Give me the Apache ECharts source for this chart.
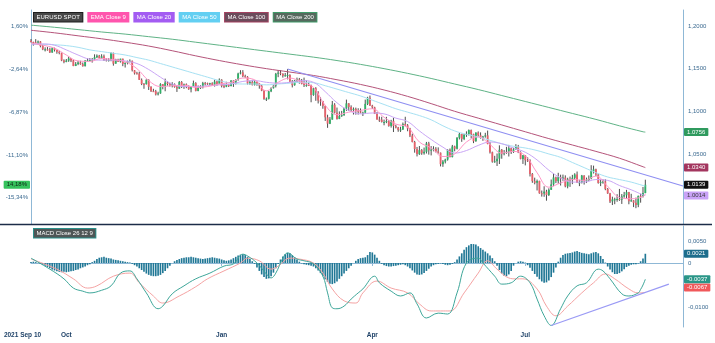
<!DOCTYPE html>
<html>
<head>
<meta charset="utf-8">
<script src="https://cdn.jsdelivr.net/npm/echarts@6/dist/echarts.min.js"></script>
<style>
  html, body { margin: 0; padding: 0; background: #ffffff; }
  #chart { width: 715px; height: 343px; }
</style>
</head>
<body>
<div id="chart"></div>
<script>
// EUR/USD daily candles with moving averages and MACD(26,12,9)

const startDate = '2021-09-10';
const axisSlots = 278; // trading days on the time axis, incl. empty room after the last bar

// Daily candles: [open, high, low, close], one per weekday from startDate
const candles = [
  [1.1827,1.1847,1.1806,1.1813],[1.1813,1.1816,1.1770,1.1808],[1.1808,1.1846,1.1800,1.1806],[1.1806,1.1830,1.1783,1.1819],[1.1819,1.1823,1.1750,1.1765],
  [1.1765,1.1781,1.1717,1.1725],[1.1725,1.1750,1.1702,1.1727],[1.1727,1.1753,1.1711,1.1725],[1.1725,1.1745,1.1684,1.1690],[1.1690,1.1751,1.1685,1.1740],
  [1.1740,1.1746,1.1701,1.1719],[1.1719,1.1723,1.1675,1.1696],[1.1696,1.1710,1.1668,1.1683],[1.1683,1.1688,1.1588,1.1596],[1.1596,1.1609,1.1563,1.1579],
  [1.1579,1.1613,1.1575,1.1595],[1.1595,1.1641,1.1580,1.1620],[1.1620,1.1624,1.1577,1.1597],[1.1597,1.1604,1.1529,1.1531],[1.1531,1.1577,1.1530,1.1554],
  [1.1554,1.1592,1.1541,1.1573],[1.1573,1.1592,1.1546,1.1552],[1.1552,1.1572,1.1524,1.1529],[1.1529,1.1600,1.1526,1.1594],[1.1594,1.1624,1.1584,1.1597],
  [1.1597,1.1624,1.1586,1.1601],[1.1601,1.1625,1.1571,1.1608],[1.1608,1.1668,1.1600,1.1634],[1.1634,1.1667,1.1624,1.1652],[1.1652,1.1661,1.1619,1.1623],
  [1.1623,1.1669,1.1618,1.1644],[1.1644,1.1665,1.1590,1.1608],[1.1608,1.1624,1.1584,1.1599],[1.1599,1.1623,1.1583,1.1601],[1.1601,1.1692,1.1587,1.1683],
  [1.1683,1.1688,1.1535,1.1558],[1.1558,1.1615,1.1558,1.1607],[1.1607,1.1616,1.1578,1.1581],[1.1581,1.1616,1.1571,1.1617],[1.1617,1.1617,1.1529,1.1555],
  [1.1555,1.1575,1.1513,1.1567],[1.1567,1.1594,1.1550,1.1587],[1.1587,1.1609,1.1573,1.1592],[1.1592,1.1595,1.1467,1.1481],[1.1481,1.1484,1.1431,1.1445],
  [1.1445,1.1463,1.1432,1.1444],[1.1444,1.1464,1.1368,1.1369],[1.1369,1.1385,1.1307,1.1320],[1.1320,1.1332,1.1264,1.1319],[1.1319,1.1374,1.1313,1.1370],
  [1.1370,1.1374,1.1250,1.1287],[1.1287,1.1293,1.1227,1.1236],[1.1236,1.1264,1.1226,1.1235],[1.1235,1.1251,1.1186,1.1198],[1.1198,1.1229,1.1186,1.1210],
  [1.1210,1.1329,1.1206,1.1318],[1.1318,1.1320,1.1258,1.1291],[1.1291,1.1383,1.1235,1.1338],[1.1338,1.1352,1.1301,1.1320],[1.1320,1.1334,1.1290,1.1302],
  [1.1302,1.1341,1.1280,1.1316],[1.1316,1.1327,1.1277,1.1285],[1.1285,1.1300,1.1227,1.1266],[1.1266,1.1355,1.1262,1.1343],[1.1343,1.1354,1.1273,1.1290],
  [1.1290,1.1325,1.1263,1.1317],[1.1317,1.1326,1.1271,1.1286],[1.1286,1.1304,1.1252,1.1259],[1.1259,1.1297,1.1222,1.1291],[1.1291,1.1360,1.1286,1.1331],
  [1.1331,1.1341,1.1234,1.1239],[1.1239,1.1303,1.1235,1.1281],[1.1281,1.1305,1.1262,1.1283],[1.1283,1.1345,1.1268,1.1330],[1.1330,1.1344,1.1302,1.1328],
  [1.1328,1.1336,1.1310,1.1318],[1.1318,1.1334,1.1305,1.1330],[1.1330,1.1340,1.1298,1.1310],[1.1310,1.1369,1.1290,1.1348],[1.1348,1.1360,1.1300,1.1324],
  [1.1324,1.1386,1.1321,1.1370],[1.1370,1.1376,1.1280,1.1296],[1.1296,1.1322,1.1272,1.1289],[1.1289,1.1346,1.1283,1.1313],[1.1313,1.1318,1.1285,1.1296],
  [1.1296,1.1364,1.1292,1.1360],[1.1360,1.1363,1.1286,1.1325],[1.1325,1.1375,1.1314,1.1368],[1.1368,1.1452,1.1358,1.1443],[1.1443,1.1482,1.1433,1.1456],
  [1.1456,1.1483,1.1400,1.1412],[1.1412,1.1429,1.1393,1.1404],[1.1404,1.1412,1.1314,1.1325],[1.1325,1.1360,1.1310,1.1343],[1.1343,1.1369,1.1303,1.1311],
  [1.1311,1.1363,1.1302,1.1345],[1.1345,1.1349,1.1300,1.1325],[1.1325,1.1332,1.1265,1.1301],[1.1301,1.1306,1.1236,1.1243],[1.1243,1.1244,1.1135,1.1144],
  [1.1144,1.1162,1.1121,1.1147],[1.1147,1.1239,1.1139,1.1234],[1.1234,1.1281,1.1225,1.1271],[1.1271,1.1313,1.1267,1.1301],[1.1301,1.1450,1.1280,1.1440],
  [1.1440,1.1484,1.1400,1.1453],[1.1453,1.1483,1.1423,1.1441],[1.1441,1.1445,1.1395,1.1416],[1.1416,1.1449,1.1406,1.1422],[1.1422,1.1495,1.1374,1.1425],
  [1.1425,1.1434,1.1340,1.1349],[1.1349,1.1366,1.1280,1.1306],[1.1306,1.1368,1.1300,1.1359],[1.1359,1.1395,1.1340,1.1374],[1.1374,1.1391,1.1324,1.1360],
  [1.1360,1.1379,1.1316,1.1322],[1.1322,1.1395,1.1285,1.1307],[1.1307,1.1363,1.1288,1.1309],[1.1309,1.1346,1.1296,1.1307],[1.1307,1.1312,1.1106,1.1191],
  [1.1191,1.1273,1.1182,1.1270],[1.1270,1.1283,1.1123,1.1221],[1.1221,1.1236,1.1092,1.1126],[1.1126,1.1166,1.1065,1.1119],[1.1119,1.1122,1.1030,1.1064],
  [1.1064,1.1066,1.0887,1.0929],[1.0929,1.0960,1.0806,1.0855],[1.0855,1.0932,1.0850,1.0903],[1.0903,1.1121,1.0902,1.1077],[1.1077,1.1095,1.0975,1.0984],
  [1.0984,1.1044,1.0903,1.0911],[1.0911,1.0999,1.0908,1.0944],[1.0944,1.1005,1.0935,1.0955],[1.0955,1.1041,1.0948,1.1034],[1.1034,1.1137,1.1005,1.1093],
  [1.1093,1.1096,1.1004,1.1051],[1.1051,1.1070,1.0994,1.1016],[1.1016,1.1045,1.0962,1.1029],[1.1029,1.1043,1.0961,1.1006],[1.1006,1.1036,1.0962,1.1000],
  [1.1000,1.1034,1.0976,1.0983],[1.0983,1.0996,1.0945,1.0984],[1.0984,1.1137,1.0982,1.1087],[1.1087,1.1170,1.1073,1.1158],[1.1158,1.1185,1.1062,1.1067],
  [1.1067,1.1076,1.1028,1.1046],[1.1046,1.1053,1.0968,1.0971],[1.0971,1.0992,1.0902,1.0903],[1.0903,1.0938,1.0876,1.0902],[1.0902,1.0936,1.0869,1.0876],
  [1.0876,1.0903,1.0836,1.0876],[1.0876,1.0935,1.0861,1.0885],[1.0885,1.0897,1.0820,1.0829],[1.0829,1.0900,1.0809,1.0888],[1.0888,1.0924,1.0757,1.0827],
  [1.0827,1.0842,1.0800,1.0810],[1.0810,1.0817,1.0760,1.0780],[1.0780,1.0819,1.0758,1.0787],[1.0787,1.0868,1.0781,1.0851],[1.0851,1.0936,1.0823,1.0836],
  [1.0836,1.0850,1.0766,1.0798],[1.0798,1.0806,1.0698,1.0716],[1.0716,1.0738,1.0636,1.0640],[1.0640,1.0653,1.0515,1.0558],[1.0558,1.0582,1.0471,1.0498],
  [1.0498,1.0593,1.0489,1.0545],[1.0545,1.0557,1.0490,1.0508],[1.0508,1.0575,1.0492,1.0526],[1.0526,1.0641,1.0505,1.0623],[1.0623,1.0642,1.0492,1.0542],
  [1.0542,1.0592,1.0483,1.0550],[1.0550,1.0590,1.0531,1.0561],[1.0561,1.0580,1.0518,1.0530],[1.0530,1.0577,1.0504,1.0515],[1.0515,1.0516,1.0354,1.0380],
  [1.0380,1.0428,1.0349,1.0411],[1.0411,1.0444,1.0389,1.0434],[1.0434,1.0555,1.0422,1.0548],[1.0548,1.0564,1.0460,1.0463],[1.0463,1.0606,1.0460,1.0588],
  [1.0588,1.0597,1.0531,1.0562],[1.0562,1.0697,1.0553,1.0690],[1.0690,1.0749,1.0670,1.0733],[1.0733,1.0737,1.0642,1.0676],[1.0676,1.0733,1.0662,1.0725],
  [1.0725,1.0765,1.0700,1.0734],[1.0734,1.0787,1.0716,1.0780],[1.0780,1.0786,1.0682,1.0733],[1.0733,1.0737,1.0627,1.0649],[1.0649,1.0753,1.0643,1.0751],
  [1.0751,1.0764,1.0705,1.0719],[1.0719,1.0753,1.0680,1.0696],[1.0696,1.0712,1.0654,1.0706],[1.0706,1.0748,1.0691,1.0718],[1.0718,1.0774,1.0614,1.0616],
  [1.0616,1.0641,1.0505,1.0520],[1.0520,1.0527,1.0398,1.0409],[1.0409,1.0478,1.0397,1.0414],[1.0414,1.0505,1.0359,1.0445],[1.0445,1.0601,1.0382,1.0549],
  [1.0549,1.0558,1.0444,1.0498],[1.0498,1.0546,1.0484,1.0511],[1.0511,1.0583,1.0502,1.0525],[1.0525,1.0606,1.0470,1.0567],[1.0567,1.0574,1.0500,1.0522],
  [1.0522,1.0571,1.0512,1.0554],[1.0554,1.0615,1.0551,1.0584],[1.0584,1.0606,1.0510,1.0520],[1.0520,1.0530,1.0437,1.0442],[1.0442,1.0487,1.0383,1.0484],
  [1.0484,1.0486,1.0366,1.0426],[1.0426,1.0462,1.0406,1.0423],[1.0423,1.0437,1.0236,1.0266],[1.0266,1.0276,1.0162,1.0181],[1.0181,1.0222,1.0144,1.0162],
  [1.0162,1.0200,1.0072,1.0184],[1.0184,1.0186,1.0034,1.0039],[1.0039,1.0071,1.0000,1.0036],[1.0036,1.0121,0.9998,1.0059],[1.0059,1.0080,0.9952,1.0019],
  [1.0019,1.0097,1.0007,1.0080],[1.0080,1.0200,1.0079,1.0143],[1.0143,1.0269,1.0122,1.0225],[1.0225,1.0234,1.0158,1.0181],[1.0181,1.0279,1.0152,1.0228],
  [1.0228,1.0257,1.0130,1.0213],[1.0213,1.0258,1.0185,1.0223],[1.0223,1.0249,1.0109,1.0120],[1.0120,1.0221,1.0097,1.0203],[1.0203,1.0235,1.0114,1.0197],
  [1.0197,1.0255,1.0146,1.0220],[1.0220,1.0274,1.0197,1.0260],[1.0260,1.0294,1.0161,1.0163],[1.0163,1.0197,1.0123,1.0167],[1.0167,1.0254,1.0154,1.0247],
  [1.0247,1.0250,1.0141,1.0181],[1.0181,1.0223,1.0159,1.0197],[1.0197,1.0248,1.0182,1.0213],[1.0213,1.0368,1.0203,1.0298],[1.0298,1.0363,1.0271,1.0320],
  [1.0320,1.0327,1.0241,1.0259],[1.0259,1.0267,1.0152,1.0160],[1.0160,1.0201,1.0123,1.0170],[1.0170,1.0202,1.0151,1.0178],[1.0178,1.0203,1.0075,1.0090],
  [1.0090,1.0100,1.0033,1.0037],[1.0037,1.0044,0.9925,0.9944],[0.9944,0.9999,0.9901,0.9967],[0.9967,0.9987,0.9911,0.9968],[0.9968,1.0028,0.9940,0.9972],
  [0.9972,1.0090,0.9950,0.9964],[0.9964,1.0030,0.9914,1.0002],[1.0002,1.0055,0.9987,1.0017],[1.0017,1.0079,0.9974,1.0053],[1.0053,1.0055,0.9910,0.9946],
  [0.9946,1.0033,0.9940,0.9956],[0.9956,0.9958,0.9877,0.9927],[0.9927,0.9988,0.9864,0.9903],[0.9903,1.0011,0.9876,1.0009],[1.0009,1.0034,0.9929,1.0001],
  [1.0001,1.0113,0.9990,1.0041],[1.0041,1.0198,1.0040,1.0139]
];

// Weekly samples (trading-day offset) of the faster averages
const weekIdx = [0,5,10,15,20,25,30,35,40,45,50,55,60,65,70,75,80,85,90,95,100,105,110,115,120,125,130,135,140,145,150,155,160,165,170,175,180,185,190,195,200,205,210,215,220,225,230,235,240,245,250,255,260,261];
const ema9 = [1.1800,1.1775,1.1740,1.1660,1.1590,1.1585,1.1620,1.1605,1.1580,1.1500,1.1360,1.1290,1.1300,1.1305,1.1280,1.1290,1.1320,1.1340,1.1390,1.1370,1.1240,1.1340,1.1390,1.1340,1.1280,1.1070,1.0960,1.0990,1.1010,1.1030,1.0930,1.0850,1.0815,1.0640,1.0570,1.0470,1.0500,1.0640,1.0700,1.0610,1.0510,1.0530,1.0480,1.0280,1.0110,1.0160,1.0200,1.0190,1.0240,1.0120,0.9990,0.9975,1.0000,1.0030];
const ma20 = [1.1785,1.1790,1.1775,1.1720,1.1660,1.1610,1.1600,1.1600,1.1590,1.1560,1.1490,1.1400,1.1320,1.1290,1.1290,1.1300,1.1310,1.1320,1.1350,1.1360,1.1340,1.1330,1.1340,1.1360,1.1340,1.1230,1.1100,1.1010,1.0970,1.0980,1.0970,1.0920,1.0880,1.0770,1.0670,1.0580,1.0510,1.0540,1.0600,1.0640,1.0620,1.0570,1.0520,1.0430,1.0310,1.0220,1.0170,1.0170,1.0200,1.0190,1.0130,1.0080,1.0020,1.0014];
const ma50 = [1.1790,1.1785,1.1780,1.1770,1.1750,1.1720,1.1700,1.1680,1.1660,1.1630,1.1600,1.1560,1.1520,1.1480,1.1440,1.1400,1.1360,1.1330,1.1320,1.1320,1.1310,1.1320,1.1330,1.1340,1.1335,1.1300,1.1260,1.1220,1.1180,1.1130,1.1080,1.1030,1.0990,1.0950,1.0900,1.0830,1.0770,1.0730,1.0700,1.0660,1.0620,1.0590,1.0570,1.0540,1.0500,1.0460,1.0400,1.0340,1.0280,1.0230,1.0200,1.0170,1.0130,1.0125];

// Fortnightly samples of the slow averages
const slowIdx = [0,10,20,30,40,50,60,70,80,90,100,110,120,130,140,150,160,170,180,190,200,210,220,230,240,250,260,261];
const ma100 = [1.1950,1.1920,1.1885,1.1850,1.1810,1.1765,1.1710,1.1650,1.1595,1.1545,1.1500,1.1460,1.1420,1.1370,1.1315,1.1250,1.1175,1.1090,1.1000,1.0920,1.0840,1.0760,1.0680,1.0605,1.0530,1.0450,1.0350,1.0340];
const ma200 = [1.2010,1.1985,1.1958,1.1930,1.1905,1.1875,1.1845,1.1810,1.1775,1.1740,1.1705,1.1670,1.1635,1.1595,1.1550,1.1500,1.1445,1.1385,1.1320,1.1255,1.1185,1.1115,1.1045,1.0975,1.0905,1.0830,1.0760,1.0756];

// Resistance line drawn from the February high
const priceTrend = [[109, 1.1495], [277, 1.0124]];

// MACD histogram, one bar per trading day
const macdHist = [
  0.0002,0.0003,0.0002,0.0000,-0.0002,-0.0004,-0.0006,-0.0009,-0.0012,-0.0015,
  -0.0017,-0.0019,-0.0020,-0.0021,-0.0020,-0.0021,-0.0020,-0.0019,-0.0018,-0.0016,
  -0.0015,-0.0012,-0.0010,-0.0008,-0.0005,-0.0003,0.0002,0.0005,0.0009,0.0012,
  0.0013,0.0014,0.0012,0.0011,0.0010,0.0008,0.0007,0.0006,0.0005,0.0004,
  0.0003,0.0002,0.0001,-0.0002,-0.0005,-0.0008,-0.0012,-0.0016,-0.0020,-0.0024,
  -0.0027,-0.0029,-0.0030,-0.0030,-0.0029,-0.0027,-0.0023,-0.0018,-0.0012,-0.0006,
  0.0000,0.0004,0.0007,0.0009,0.0011,0.0012,0.0013,0.0013,0.0014,0.0013,
  0.0012,0.0011,0.0010,0.0009,0.0010,0.0011,0.0012,0.0013,0.0012,0.0011,
  0.0010,0.0008,0.0006,0.0005,0.0006,0.0008,0.0011,0.0014,0.0017,0.0019,
  0.0020,0.0018,0.0014,0.0009,0.0004,-0.0002,-0.0010,-0.0018,-0.0026,-0.0032,
  -0.0036,-0.0035,-0.0030,-0.0022,-0.0012,-0.0002,0.0008,0.0015,0.0020,0.0023,
  0.0022,0.0018,0.0013,0.0008,0.0003,-0.0001,-0.0003,-0.0004,-0.0005,-0.0006,
  -0.0008,-0.0012,-0.0017,-0.0023,-0.0030,-0.0037,-0.0043,-0.0047,-0.0048,-0.0046,
  -0.0042,-0.0036,-0.0030,-0.0024,-0.0018,-0.0012,-0.0006,0.0000,0.0005,0.0009,
  0.0011,0.0012,0.0013,0.0018,0.0025,0.0024,0.0019,0.0012,0.0005,-0.0002,
  -0.0005,-0.0007,-0.0008,-0.0008,-0.0007,-0.0006,-0.0005,-0.0004,-0.0003,-0.0005,
  -0.0008,-0.0012,-0.0017,-0.0022,-0.0026,-0.0027,-0.0026,-0.0023,-0.0018,-0.0013,
  -0.0008,-0.0005,-0.0003,-0.0002,-0.0001,-0.0002,-0.0004,-0.0005,-0.0004,-0.0002,
  0.0002,0.0008,0.0015,0.0022,0.0030,0.0036,0.0040,0.0043,0.0043,0.0042,
  0.0038,0.0034,0.0030,0.0026,0.0022,0.0017,0.0011,0.0004,-0.0006,-0.0016,
  -0.0024,-0.0029,-0.0030,-0.0026,-0.0018,-0.0006,0.0000,0.0003,0.0004,0.0003,
  0.0001,-0.0005,-0.0011,-0.0018,-0.0025,-0.0031,-0.0037,-0.0042,-0.0045,-0.0044,
  -0.0040,-0.0032,-0.0022,-0.0010,0.0003,0.0012,0.0018,0.0021,0.0022,0.0023,
  0.0024,0.0026,0.0027,0.0025,0.0023,0.0022,0.0021,0.0020,0.0022,0.0024,
  0.0025,0.0022,0.0016,0.0009,0.0001,-0.0008,-0.0015,-0.0021,-0.0025,-0.0025,
  -0.0023,-0.0019,-0.0014,-0.0009,-0.0006,-0.0004,-0.0003,-0.0003,-0.0001,0.0004,
  0.0010,0.0021
];

// MACD and signal lines: [trading-day offset, value]
const macdLine = [[0,0.0011],[8,-0.0014],[14,-0.0036],[18,-0.0057],[22,-0.0064],[25,-0.0068],[30,-0.0062],[34,-0.0052],[38,-0.0023],[42,-0.0018],[45,-0.0036],[49,-0.0068],[54,-0.0104],[56,-0.0098],[60,-0.0070],[65,-0.0052],[70,-0.0036],[76,-0.0023],[82,-0.0007],[86,-0.0002],[90,0.0020],[92,0.0016],[96,0.0000],[100,-0.0025],[102,-0.0034],[104,-0.0023],[107,0.0011],[109,0.0023],[113,0.0009],[116,0.0005],[120,-0.0002],[124,-0.0030],[126,-0.0068],[128,-0.0102],[130,-0.0104],[133,-0.0098],[136,-0.0082],[139,-0.0068],[141,-0.0059],[146,-0.0030],[148,-0.0045],[153,-0.0064],[157,-0.0075],[161,-0.0068],[164,-0.0093],[168,-0.0125],[173,-0.0114],[177,-0.0116],[181,-0.0068],[185,0.0000],[190,0.0011],[192,0.0000],[197,-0.0030],[200,-0.0048],[204,-0.0045],[208,-0.0030],[212,-0.0045],[215,-0.0082],[218,-0.0120],[221,-0.0142],[225,-0.0104],[228,-0.0075],[232,-0.0052],[236,-0.0045],[241,-0.0014],[243,-0.0018],[246,-0.0036],[251,-0.0070],[254,-0.0075],[258,-0.0068],[259,-0.0060],[260,-0.0050],[261,-0.0037]];
const signalLine = [[0,0.0009],[11,-0.0014],[18,-0.0036],[24,-0.0057],[28,-0.0052],[35,-0.0030],[42,-0.0023],[46,-0.0045],[52,-0.0075],[56,-0.0091],[63,-0.0075],[70,-0.0054],[75,-0.0036],[82,-0.0018],[89,0.0000],[92,0.0011],[97,0.0005],[102,-0.0014],[105,-0.0007],[110,0.0011],[114,0.0009],[120,0.0000],[124,-0.0023],[128,-0.0059],[133,-0.0086],[138,-0.0091],[141,-0.0068],[147,-0.0041],[153,-0.0057],[160,-0.0068],[165,-0.0093],[170,-0.0109],[174,-0.0109],[178,-0.0109],[184,-0.0068],[190,-0.0023],[194,0.0005],[198,-0.0014],[203,-0.0034],[206,-0.0036],[209,-0.0036],[215,-0.0059],[219,-0.0098],[223,-0.0120],[228,-0.0098],[234,-0.0068],[239,-0.0045],[244,-0.0025],[248,-0.0036],[254,-0.0059],[258,-0.0068],[261,-0.0067]];

// Support line under the MACD lows
const macdTrend = [[221, -0.0142], [271, -0.0048]];

// Axis ticks
const priceTicks = [1.05, 1.10, 1.15, 1.20];
const pctTicks = [1.60, -2.64, -6.87, -11.10, -15.34];
const macdTicks = [0.005, 0, -0.01];
const xLabelDates = ['2021-09-10', '2021-10-01', '2022-01-03', '2022-04-01', '2022-07-01'];
const xLabelText = ['2021 Sep 10', 'Oct', 'Jan', 'Apr', 'Jul'];

// Reference price for the performance tag on the left axis
const percentBase = 1.1814;

// ---------------------------------------------------------------

const dates = [];
(function buildTradingDays() {
  const d = new Date(startDate + 'T00:00:00Z');
  while (dates.length < axisSlots) {
    const wd = d.getUTCDay();
    if (wd !== 0 && wd !== 6) dates.push(d.toISOString().slice(0, 10));
    d.setUTCDate(d.getUTCDate() + 1);
  }
})();

const xLabelAt = new Map();
xLabelDates.forEach((ds, k) => xLabelAt.set(dates.indexOf(ds), xLabelText[k]));

const pairs = (idx, vals) => idx.map((i, k) => [dates[i], vals[k]]);
const toDated = (arr) => arr.map(([i, v]) => [dates[i], v]);
const lastOf = (arr) => arr[arr.length - 1];

const candleData = candles.map((c, i) => [dates[i], c[0], c[3], c[2], c[1]]);
const lastClose = lastOf(candles)[3];

const FONT = 'Arial, "Liberation Sans", sans-serif';
const LABEL = '#3b6a90';
const AXIS = '#8fb8d6';
const comma = (v, n) => v.toFixed(n).replace('.', ',');

function renderCandle(params, api) {
  const i = api.value(0);
  const o = api.value(1), c = api.value(2), l = api.value(3), h = api.value(4);
  const pO = api.coord([i, o]);
  const pC = api.coord([i, c]);
  const pH = api.coord([i, h]);
  const pL = api.coord([i, l]);
  const w = api.size([1, 0])[0] * 0.78;
  const up = c >= o;
  const top = Math.min(pO[1], pC[1]);
  const hgt = Math.max(Math.abs(pO[1] - pC[1]), 1);
  return {
    type: 'group',
    children: [
      { type: 'line', shape: { x1: pH[0], y1: pH[1], x2: pL[0], y2: pL[1] },
        style: { stroke: '#3a3a3a', lineWidth: 0.9 } },
      { type: 'rect', shape: { x: pO[0] - w / 2, y: top, width: w, height: hgt },
        style: { fill: up ? '#2eb067' : '#e7606a' } }
    ]
  };
}

// Value tag shown beside an axis; the text is the mark's own value
function tag(bg, fg, text, pos, extra) {
  return Object.assign({
    show: true, position: pos || 'end', distance: 1,
    formatter: text, color: fg, backgroundColor: bg,
    padding: [1, 3, 1, 3], fontSize: 6, fontFamily: FONT, borderRadius: 1
  }, extra || {});
}
const hiddenLine = { width: 0, opacity: 1, color: 'rgba(0,0,0,0)' };
function tagLine(value, bg, fg, extra) {
  return { silent: true, symbol: 'none', animation: false, precision: 6,
    lineStyle: hiddenLine,
    data: [{ yAxis: value, label: tag(bg, fg, () => value.toFixed(4), 'end', extra) }] };
}

function legendItem(name, bg, border, fg) {
  return { name, textStyle: { backgroundColor: bg, borderColor: border, borderWidth: 1,
    color: fg || '#ffffff', padding: [1.5, 2.5, 1, 2.5], fontSize: 6, fontFamily: FONT } };
}

const chart = echarts.init(document.getElementById('chart'), null, { renderer: 'canvas' });

const option = {
  animation: false,
  backgroundColor: '#ffffff',
  textStyle: { fontFamily: FONT },
  legend: [
    {
      left: 29, top: 12, padding: 0, itemWidth: 0, itemHeight: 8, itemGap: 0, icon: 'rect',
      inactiveColor: '#bbb',
      data: [
        legendItem('EURUSD SPOT', '#474747', '#1e1e1e'),
        legendItem('EMA Close 9', '#ff55ad', '#ff55ad'),
        legendItem('MA Close 20', '#a35cf2', '#a35cf2'),
        legendItem('MA Close 50', '#63cff2', '#63cff2'),
        legendItem('MA Close 100', '#6b4b5b', '#a3405f'),
        legendItem('MA Close 200', '#56695e', '#3f9a68')
      ]
    },
    {
      left: 29, top: 228, padding: 0, itemWidth: 0, itemHeight: 8, itemGap: 0, icon: 'rect',
      data: [legendItem('MACD Close 26 12 9', '#4f5656', '#2a8f8a')]
    }
  ],
  grid: [
    { left: 31, right: 32, top: 10, height: 214 },
    { left: 31, right: 32, top: 226, height: 101 }
  ],
  xAxis: [
    { type: 'category', gridIndex: 0, data: dates, boundaryGap: false, show: false },
    {
      type: 'category', gridIndex: 1, data: dates, boundaryGap: false,
      axisLine: { lineStyle: { color: AXIS, width: 1 } },
      axisTick: { interval: (i) => xLabelAt.has(i) && i > 0, length: 3, lineStyle: { color: AXIS } },
      axisLabel: {
        interval: (i) => xLabelAt.has(i),
        formatter: (v, i) => (i === 0 ? '{first|' + xLabelAt.get(i) + '}' : xLabelAt.get(i) || ''),
        fontSize: 6.5, fontWeight: 'bold', color: '#1f4268', margin: 5,
        rich: { first: { fontSize: 6.5, fontWeight: 'bold', color: '#1f4268', padding: [0, 17, 0, 0] } }
      },
      splitLine: { show: false }
    }
  ],
  yAxis: [
    {
      type: 'value', gridIndex: 0, position: 'right', min: 0.96788, max: 1.21876,
      axisLine: { show: true, lineStyle: { color: AXIS } },
      axisTick: { show: false }, splitLine: { show: false },
      axisLabel: { customValues: priceTicks, formatter: (v) => comma(v, 4),
        fontSize: 6, color: LABEL, margin: 5 }
    },
    {
      type: 'value', gridIndex: 0, position: 'left', min: -17.945, max: 3.254,
      axisLine: { show: true, lineStyle: { color: AXIS } },
      axisTick: { show: false }, splitLine: { show: false },
      axisLabel: { customValues: pctTicks, formatter: (v) => comma(v, 2) + '%',
        fontSize: 6, color: LABEL, margin: 3 }
    },
    {
      type: 'value', gridIndex: 1, position: 'right', min: -0.01455, max: 0.00841,
      axisLine: { show: true, lineStyle: { color: AXIS } },
      axisTick: { show: false }, splitLine: { show: false },
      axisLabel: { customValues: macdTicks, formatter: (v) => (v === 0 ? '0' : comma(v, 4)),
        fontSize: 6, color: LABEL, margin: 5 }
    }
  ],
  graphic: [
    { type: 'line', z: 100, silent: true,
      shape: { x1: 0, y1: 224.5, x2: 712, y2: 224.5 },
      style: { stroke: '#1c2c48', lineWidth: 1.3 } }
  ],
  series: [
    {
      name: 'MA Close 200', type: 'line', xAxisIndex: 0, yAxisIndex: 0,
      data: pairs(slowIdx, ma200), smooth: 0.4, showSymbol: false,
      lineStyle: { color: '#5fb386', width: 1 }, itemStyle: { color: '#3f9a68' },
      markLine: tagLine(lastOf(ma200), '#2f9a5e', '#ffffff')
    },
    {
      name: 'MA Close 100', type: 'line', xAxisIndex: 0, yAxisIndex: 0,
      data: pairs(slowIdx, ma100), smooth: 0.4, showSymbol: false,
      lineStyle: { color: '#b5547a', width: 1 }, itemStyle: { color: '#a3405f' },
      markLine: tagLine(lastOf(ma100), '#a3365f', '#ffffff')
    },
    {
      name: 'MA Close 50', type: 'line', xAxisIndex: 0, yAxisIndex: 0,
      data: pairs(weekIdx, ma50), smooth: 0.4, showSymbol: false,
      lineStyle: { color: '#a6e1f3', width: 1 }, itemStyle: { color: '#63cff2' }
    },
    {
      name: 'MA Close 20', type: 'line', xAxisIndex: 0, yAxisIndex: 0,
      data: pairs(weekIdx, ma20), smooth: 0.4, showSymbol: false,
      lineStyle: { color: '#caa6f6', width: 1 }, itemStyle: { color: '#a35cf2' },
      markLine: tagLine(lastOf(ma20), '#c9a3f7', '#3a3a3a')
    },
    {
      name: 'EMA Close 9', type: 'line', xAxisIndex: 0, yAxisIndex: 0,
      data: pairs(weekIdx, ema9), smooth: 0.4, showSymbol: false,
      lineStyle: { color: '#ff97c8', width: 1 }, itemStyle: { color: '#ff55ad' }
    },
    {
      name: 'trend', type: 'line', xAxisIndex: 0, yAxisIndex: 0,
      data: toDated(priceTrend), showSymbol: false, silent: true,
      lineStyle: { color: '#8f8ff2', width: 1.1 }
    },
    {
      name: 'EURUSD SPOT', type: 'custom', xAxisIndex: 0, yAxisIndex: 0,
      renderItem: renderCandle, data: candleData,
      encode: { x: 0, y: [1, 2, 3, 4] }, itemStyle: { color: '#474747' },
      markLine: {
        silent: true, symbol: 'none', precision: 6, lineStyle: hiddenLine,
        data: [
          { yAxis: lastClose, label: tag('#111111', '#ffffff', () => lastClose.toFixed(4)) },
          { yAxis: lastClose, label: tag('#35c25d', '#0c2414',
              () => comma(Math.abs((lastClose / percentBase - 1) * 100), 2) + '%', 'start') }
        ]
      }
    },
    {
      name: 'MACD Close 26 12 9', type: 'bar', xAxisIndex: 1, yAxisIndex: 2,
      data: macdHist, barWidth: '70%', itemStyle: { color: '#217896' },
      markLine: tagLine(lastOf(macdHist), '#1d6d8c', '#ffffff')
    },
    {
      name: 'MACD Close 26 12 9', type: 'line', xAxisIndex: 1, yAxisIndex: 2,
      data: toDated(signalLine), smooth: 0.4, showSymbol: false,
      lineStyle: { color: '#f5a3a3', width: 1 }, itemStyle: { color: '#217896' },
      markLine: tagLine(lastOf(signalLine)[1], '#f0585a', '#ffffff', { offset: [0, -5] })
    },
    {
      name: 'MACD Close 26 12 9', type: 'line', xAxisIndex: 1, yAxisIndex: 2,
      data: toDated(macdLine), smooth: 0.4, showSymbol: false,
      lineStyle: { color: '#3ea699', width: 1 }, itemStyle: { color: '#217896' },
      markLine: tagLine(lastOf(macdLine)[1], '#2a9688', '#ffffff')
    },
    {
      name: 'macd-trend', type: 'line', xAxisIndex: 1, yAxisIndex: 2,
      data: toDated(macdTrend), showSymbol: false, silent: true,
      lineStyle: { color: '#9a9af5', width: 1.1 }
    }
  ]
};

chart.setOption(option);
</script>
</body>
</html>
